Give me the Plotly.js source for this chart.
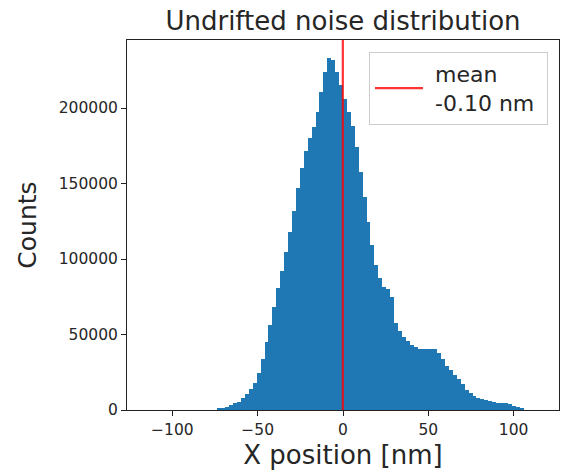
<!DOCTYPE html>
<html>
<head>
<meta charset="utf-8">
<script src="https://cdn.plot.ly/plotly-3.0.1.min.js"></script>
<style>
html,body{margin:0;padding:0;background:#fff;}
#chart{width:567px;height:475px;}
</style>
</head>
<body>
<div id="chart"></div>
<script>
// Histogram bin centers (nm), bin width 2.3 nm
var binCenters = [
  -72.45, -70.15, -67.85, -65.55, -63.25, -60.95, -58.65, -56.35, -54.05, -51.75,
  -49.45, -47.15, -44.85, -42.55, -40.25, -37.95, -35.65, -33.35, -31.05, -28.75,
  -26.45, -24.15, -21.85, -19.55, -17.25, -14.95, -12.65, -10.35, -8.05, -5.75,
  -3.45, -1.15, 1.15, 3.45, 5.75, 8.05, 10.35, 12.65, 14.95, 17.25,
  19.55, 21.85, 24.15, 26.45, 28.75, 31.05, 33.35, 35.65, 37.95, 40.25,
  42.55, 44.85, 47.15, 49.45, 51.75, 54.05, 56.35, 58.65, 60.95, 63.25,
  65.55, 67.85, 70.15, 72.45, 74.75, 77.05, 79.35, 81.65, 83.95, 86.25,
  88.55, 90.85, 93.15, 95.45, 97.75, 100.05, 102.35, 104.65
];
// Counts per bin
var counts = [
  1100, 1300, 2100, 3400, 4400, 5400, 8000, 10300, 13600, 17600,
  24800, 33700, 45200, 56100, 68400, 80500, 91900, 104400, 117800, 132000,
  147200, 160300, 171500, 180300, 187300, 197200, 210500, 223700, 233400, 231800,
  223700, 215400, 206100, 197200, 188000, 174300, 157900, 141400, 124300, 109500,
  96200, 87600, 81600, 79900, 74700, 57500, 52400, 48500, 45900, 43200,
  41600, 40400, 40400, 40300, 40400, 40300, 38000, 33700, 29400, 26800,
  23500, 20500, 16900, 13300, 11000, 9000, 8000, 7500, 6600, 5700,
  5400, 4900, 4700, 4400, 3800, 2800, 1800, 1400
];
var meanValue = -0.10;
var legendLines = ["mean", "-0.10 nm"];
var titleText = "Undrifted noise distribution";
var xLabel = "X position [nm]";
var yLabel = "Counts";
var xTicks = [-100, -50, 0, 50, 100];
var yTicks = [0, 50000, 100000, 150000, 200000];

var yTop = 1.05 * Math.max.apply(null, counts);

var bars = {
  type: 'bar',
  x: binCenters,
  y: counts,
  width: 2.3,
  marker: {color: '#1f77b4', line: {width: 0}},
  showlegend: false,
  hoverinfo: 'skip'
};
var meanLine = {
  type: 'scatter',
  mode: 'lines',
  x: [meanValue, meanValue],
  y: [0, yTop],
  line: {color: 'rgba(255,0,0,0.8)', width: 2.2},
  name: '&nbsp;' + legendLines[0] + '<br>&nbsp;' + legendLines[1] + '&nbsp;',
  showlegend: true
};

var fontFam = 'DejaVu Sans, sans-serif';
var layout = {
  width: 567,
  height: 475,
  margin: {l: 127, r: 8, t: 40, b: 65},
  paper_bgcolor: '#fff',
  plot_bgcolor: '#fff',
  bargap: 0,
  font: {family: fontFam, color: '#262626'},
  title: {
    text: titleText,
    font: {family: fontFam, size: 26, color: '#262626'},
    x: 0.605, xanchor: 'center', xref: 'container',
    y: 1 - 21/475, yanchor: 'middle', yref: 'container'
  },
  xaxis: {
    range: [-126.6, 126.6],
    tickvals: xTicks,
    ticks: 'outside', ticklen: 5, tickwidth: 1, tickcolor: '#222',
    showline: true, linecolor: '#222', linewidth: 1, mirror: true,
    showgrid: false, zeroline: false,
    tickfont: {family: fontFam, size: 15.5, color: '#262626'},
    title: {text: xLabel, font: {family: fontFam, size: 26, color: '#262626'}, standoff: 8}
  },
  yaxis: {
    range: [0, yTop],
    tickvals: yTicks,
    tickformat: 'd',
    ticks: 'outside', ticklen: 5, tickwidth: 1, tickcolor: '#222',
    showline: true, linecolor: '#222', linewidth: 1, mirror: true,
    showgrid: false, zeroline: false,
    tickfont: {family: fontFam, size: 15.5, color: '#262626'},
    title: {text: yLabel, font: {family: fontFam, size: 25, color: '#262626'}, standoff: 14}
  },
  legend: {
    x: 0.9745, xanchor: 'right', y: 0.9676, yanchor: 'top',
    itemwidth: 48,
    bgcolor: 'rgba(255,255,255,0.8)', bordercolor: '#cccccc', borderwidth: 1,
    font: {family: fontFam, size: 22, color: '#262626'}
  }
};

Plotly.newPlot('chart', [bars, meanLine], layout, {staticPlot: true, displayModeBar: false});
</script>
</body>
</html>
